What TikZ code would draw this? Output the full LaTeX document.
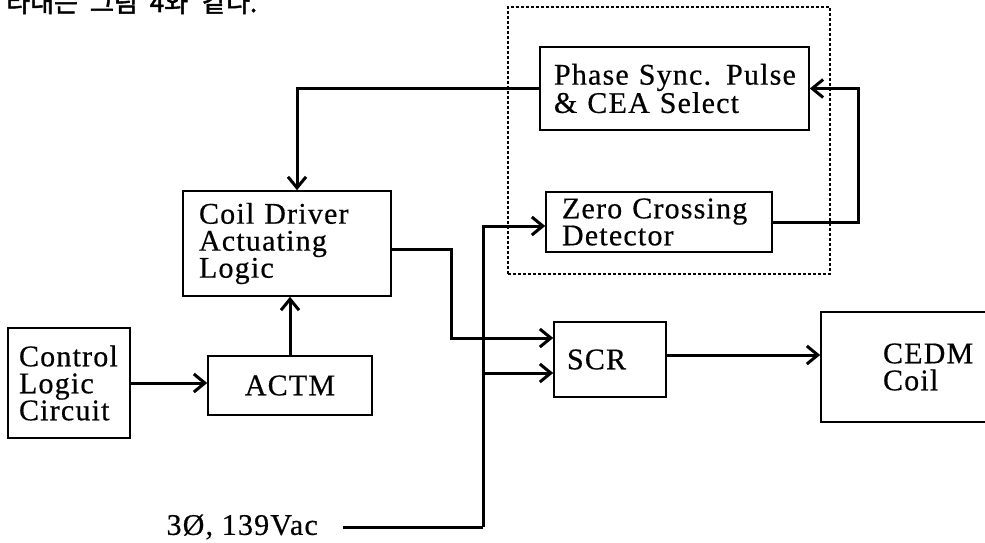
\documentclass[tikz,border=0pt]{standalone}
\usepackage{fontspec}
\setmainfont{Liberation Serif}[LetterSpace=4, FakeBold=0.5]
\newfontfamily\krfont{Noto Sans CJK KR}[FakeBold=2]
\usetikzlibrary{arrows.meta}
\begin{document}
\begin{tikzpicture}[x=1pt,y=-1pt,
  txt/.style={font=\fontsize{30}{27}\selectfont},
  box/.style={draw, line width=1.6pt, rectangle, txt, inner ysep=0pt},
  lbox/.style={box, align=left},
  grpbox/.style={draw, line width=1.5pt, dash pattern=on 3pt off 2pt, rectangle, inner sep=0pt},
  wire/.style={line width=3pt, -{Straight Barb[length=11pt,width=18pt]}},
  plainwire/.style={line width=3pt}]
\useasboundingbox (0,0) rectangle (985,543);
\clip (0,0) rectangle (985,543);

% partial heading text (cut off at top)
\node[anchor=base west, inner sep=0pt, font={\fontsize{26}{26}\selectfont\krfont}] (kr) at (6,12) {타내는\hspace{12pt}그림\hspace{12pt}4와\hspace{14pt}같다.};

% dashed group
\node[grpbox, minimum width=322pt, minimum height=267pt] (grp) at (669,140.5) {};

% boxes
\node[lbox, inner xsep=14pt, text width=241pt, minimum height=83pt] (phase) at (674.5,88.5) {Phase Sync. Pulse\\\& CEA Select};
\node[lbox, inner xsep=16pt, text width=194pt, minimum height=60pt] (zc) at (659,222) {Zero Crossing\\Detector};
\node[lbox, inner xsep=16pt, text width=176pt, minimum height=105pt] (cd) at (287,243.5) {Coil Driver\\Actuating\\Logic};
\node[lbox, inner xsep=13pt, text width=86pt, minimum height=75pt] (scr) at (610,359.5) {SCR};
\node[lbox, inner xsep=62pt, text width=116pt, minimum height=110pt] (cedm) at (941,367) {CEDM\\Coil};
\node[lbox, inner xsep=11pt, text width=100pt, minimum height=110pt] (clc) at (69,383) {Control\\Logic\\Circuit};
\node[box, minimum width=164pt, minimum height=59pt] (actm) at (290,385.5) {ACTM};

% source label
\node[txt, anchor=east, inner sep=0pt] (src) at (318,527) {3Ø, 139Vac};
\coordinate (bus) at (483,527);
\coordinate (scrlow) at ([yshift=-13.5pt]scr.west);
\coordinate (scrhigh) at ([yshift=21.5pt]scr.west);

% connectors
\draw[wire] (phase.west) -| ([xshift=10pt]cd.north);
\draw[wire] (zc.east) -- ++(86,0) |- (phase.east);
\draw[wire] (actm.north) -- (actm.north |- cd.south);
\draw[wire] (clc.east) -- (clc.east -| actm.west);
\draw[wire] ([yshift=-6pt]cd.east) -- ++(60,0) |- (scrhigh);
\draw[plainwire] ([xshift=25pt]src.east) -- (bus);
\draw[wire] (bus) |- ([yshift=-4pt]zc.west);
\draw[wire] (bus |- scrlow) -- (scrlow);
\draw[wire] ([yshift=4.5pt]scr.east) -- ([yshift=4.5pt]scr.east -| cedm.west);
\end{tikzpicture}
\end{document}
